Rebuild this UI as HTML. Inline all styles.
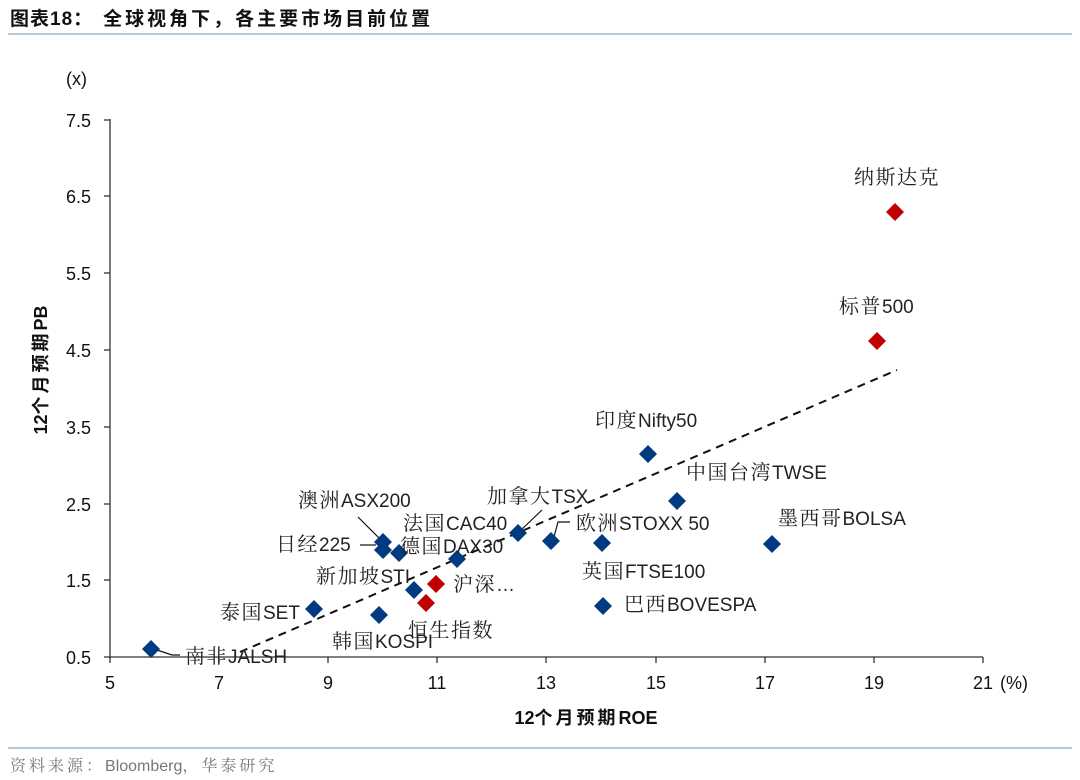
<!DOCTYPE html>
<html><head><meta charset="utf-8"><style>
html,body{margin:0;padding:0;background:#fff;}
svg{display:block;}
text{font-family:"Liberation Sans","Noto Serif CJK SC",serif;fill:#222;}
.t{font-family:"Liberation Sans",sans-serif;font-size:18px;fill:#111;}
.l{font-size:19px;}
.c{font-family:"Noto Serif CJK SC","Noto Sans CJK SC",serif;font-size:20px;letter-spacing:1.5px;}
</style></head><body>
<svg width="1080" height="780" viewBox="0 0 1080 780" xmlns="http://www.w3.org/2000/svg">
<text x="10" y="25" style="font-family:'Liberation Sans','Noto Sans CJK SC',sans-serif;font-weight:bold;font-size:19px;fill:#111"><tspan style="letter-spacing:1px">图表18：</tspan><tspan dx="10" style="letter-spacing:3px">全球视角下，各主要市场目前位置</tspan></text>
<line x1="8" y1="34" x2="1072" y2="34" stroke="#9fb6cf" stroke-width="1.5"/>
<text x="66" y="85" class="t">(x)</text>
<line x1="110" y1="119" x2="110" y2="658" stroke="#333" stroke-width="1.3"/>
<line x1="104" y1="657" x2="983" y2="657" stroke="#333" stroke-width="1.3"/>
<g stroke="#333" stroke-width="1.3">
<line x1="104" y1="120" x2="110" y2="120"/><line x1="104" y1="196" x2="110" y2="196"/><line x1="104" y1="273" x2="110" y2="273"/><line x1="104" y1="350" x2="110" y2="350"/><line x1="104" y1="427" x2="110" y2="427"/><line x1="104" y1="504" x2="110" y2="504"/><line x1="104" y1="580" x2="110" y2="580"/>
<line x1="110" y1="657" x2="110" y2="663"/><line x1="219" y1="657" x2="219" y2="663"/><line x1="328" y1="657" x2="328" y2="663"/><line x1="437" y1="657" x2="437" y2="663"/><line x1="546" y1="657" x2="546" y2="663"/><line x1="656" y1="657" x2="656" y2="663"/><line x1="765" y1="657" x2="765" y2="663"/><line x1="874" y1="657" x2="874" y2="663"/><line x1="983" y1="657" x2="983" y2="663"/>
</g>
<text x="91" y="127" class="t" text-anchor="end">7.5</text>
<text x="91" y="203" class="t" text-anchor="end">6.5</text>
<text x="91" y="280" class="t" text-anchor="end">5.5</text>
<text x="91" y="357" class="t" text-anchor="end">4.5</text>
<text x="91" y="434" class="t" text-anchor="end">3.5</text>
<text x="91" y="511" class="t" text-anchor="end">2.5</text>
<text x="91" y="587" class="t" text-anchor="end">1.5</text>
<text x="91" y="664" class="t" text-anchor="end">0.5</text>
<text x="110" y="689" class="t" text-anchor="middle">5</text>
<text x="219" y="689" class="t" text-anchor="middle">7</text>
<text x="328" y="689" class="t" text-anchor="middle">9</text>
<text x="437" y="689" class="t" text-anchor="middle">11</text>
<text x="546" y="689" class="t" text-anchor="middle">13</text>
<text x="656" y="689" class="t" text-anchor="middle">15</text>
<text x="765" y="689" class="t" text-anchor="middle">17</text>
<text x="874" y="689" class="t" text-anchor="middle">19</text>
<text x="983" y="689" class="t" text-anchor="middle">21</text>
<text x="1000" y="689" class="t">(%)</text>
<text x="586" y="724" text-anchor="middle" style="font-family:'Liberation Sans','Noto Sans CJK SC',sans-serif;font-weight:bold;font-size:18px;fill:#111">12<tspan style="letter-spacing:3px">个月预期</tspan>ROE</text>
<text transform="translate(47,370) rotate(-90)" text-anchor="middle" style="font-family:'Liberation Sans','Noto Sans CJK SC',sans-serif;font-weight:bold;font-size:18px;fill:#111">12<tspan style="letter-spacing:3px">个月预期</tspan>PB</text>
<line x1="240" y1="652" x2="897" y2="370" stroke="#111" stroke-width="2" stroke-dasharray="8,6"/>
<g stroke="#111" stroke-width="1.2" fill="none">
<polyline points="157,650 172,655 180,655"/>
<line x1="358" y1="517" x2="382" y2="541"/>
<line x1="360" y1="545" x2="376" y2="545"/>
<line x1="520" y1="531" x2="542" y2="510"/>
<polyline points="554,537 558,522 570,522"/>
</g>
<g fill="#003a80">
<path d="M151 640l9 9-9 9-9-9z"/>
<path d="M314 600l9 9-9 9-9-9z"/>
<path d="M379 606l9 9-9 9-9-9z"/>
<path d="M383 533l9 9-9 9-9-9z"/>
<path d="M383 541l9 9-9 9-9-9z"/>
<path d="M399 544l9 9-9 9-9-9z"/>
<path d="M457 550l9 9-9 9-9-9z"/>
<path d="M414 581l9 9-9 9-9-9z"/>
<path d="M518 524l9 9-9 9-9-9z"/>
<path d="M551 532l9 9-9 9-9-9z"/>
<path d="M602 534l9 9-9 9-9-9z"/>
<path d="M603 597l9 9-9 9-9-9z"/>
<path d="M772 535l9 9-9 9-9-9z"/>
<path d="M648 445l9 9-9 9-9-9z"/>
<path d="M677 492l9 9-9 9-9-9z"/>
</g>
<g fill="#c00000">
<path d="M436 575l9 9-9 9-9-9z"/>
<path d="M426 594l9 9-9 9-9-9z"/>
<path d="M895 203l9 9-9 9-9-9z"/>
<path d="M877 332l9 9-9 9-9-9z"/>
</g>
<g class="l">
<text x="854" y="184" class="l"><tspan class="c">纳斯达克</tspan></text>
<text x="839" y="313" class="l"><tspan class="c">标普</tspan>500</text>
<text x="595" y="427" class="l"><tspan class="c">印度</tspan>Nifty50</text>
<text x="686" y="479" class="l"><tspan class="c">中国台湾</tspan>TWSE</text>
<text x="778" y="525" class="l"><tspan class="c">墨西哥</tspan>BOLSA</text>
<text x="576" y="530" class="l"><tspan class="c">欧洲</tspan>STOXX 50</text>
<text x="582" y="578" class="l"><tspan class="c">英国</tspan>FTSE100</text>
<text x="624" y="611" class="l"><tspan class="c">巴西</tspan>BOVESPA</text>
<text x="487" y="503" class="l"><tspan class="c">加拿大</tspan>TSX</text>
<text x="403" y="530" class="l"><tspan class="c">法国</tspan>CAC40</text>
<text x="400" y="553" class="l"><tspan class="c">德国</tspan>DAX30</text>
<text x="298" y="507" class="l"><tspan class="c">澳洲</tspan>ASX200</text>
<text x="276" y="551" class="l"><tspan class="c">日经</tspan>225</text>
<text x="316" y="583" class="l"><tspan class="c">新加坡</tspan>STI</text>
<text x="453" y="591" class="l"><tspan class="c">沪深</tspan>…</text>
<text x="220" y="619" class="l"><tspan class="c">泰国</tspan>SET</text>
<text x="332" y="648" class="l"><tspan class="c">韩国</tspan>KOSPI</text>
<text x="408" y="637" class="l"><tspan class="c">恒生指数</tspan></text>
<text x="185" y="663" class="l"><tspan class="c">南非</tspan>JALSH</text>
</g>
<line x1="8" y1="748" x2="1072" y2="748" stroke="#9fb6cf" stroke-width="1.5"/>
<text x="10" y="771" style="font-size:16px;fill:#777;font-family:'Liberation Sans','Noto Serif CJK SC',serif"><tspan style="letter-spacing:3px">资料来源：</tspan>Bloomberg<tspan style="letter-spacing:3px">，华泰研究</tspan></text>
</svg>
</body></html>
